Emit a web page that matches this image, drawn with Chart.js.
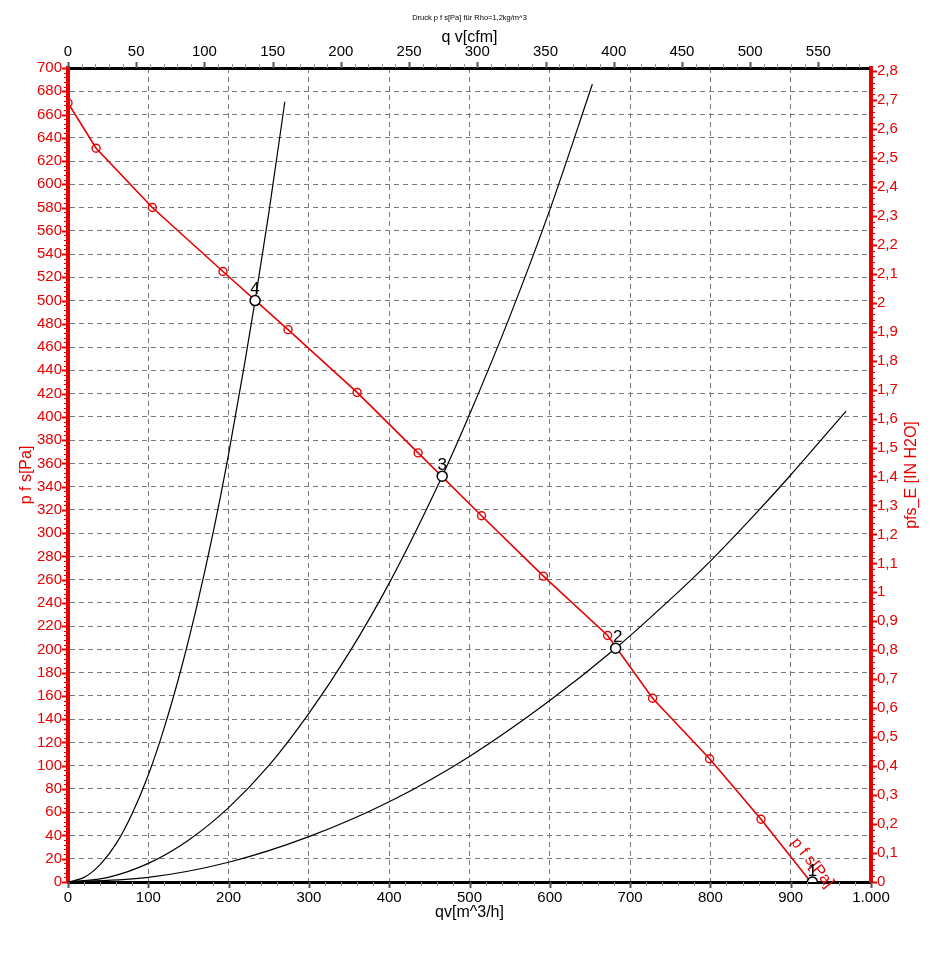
<!DOCTYPE html>
<html lang="de">
<head>
  <meta charset="UTF-8">
  <title>Druck p f s[Pa] für Rho=1,2kg/m^3</title>
  <script src="https://cdn.jsdelivr.net/npm/chart.js"></script>
  <style>
    body {
      margin: 0;
      background: #fff;
    }
    canvas {
      display: block;
    }
  </style>
</head>
<body>
  <canvas id="fanChart" width="935" height="954"></canvas>

  <script>
    // Fan curve p f s [Pa] over qv [m^3/h] (red, circle markers)
    const fanQ = [0, 35, 105, 193, 274, 360, 436, 515, 592, 672, 728, 799, 863, 925];
    const fanP = [670, 631, 580, 525, 475, 421, 369, 315, 263, 212, 158, 106, 54, 0];

    // System curves (black)
    const sys4Q = [0, 20, 40, 60, 80, 100, 120, 140, 160, 180, 200, 220, 233, 250, 270];
    const sys4P = [0, 4, 15, 33, 59, 92, 133, 181, 236, 298, 368, 446, 500, 575, 671];
    const sys3Q = [0, 50, 100, 150, 200, 250, 300, 350, 400, 466, 500, 550, 600, 653];
    const sys3P = [0, 4, 16, 36, 64, 100, 145, 197, 257, 349, 402, 486, 578, 686];
    const sys2Q = [0, 100, 200, 300, 400, 500, 600, 682, 750, 800, 850, 900, 969];
    const sys2P = [0, 4, 17, 39, 69, 108, 156, 201, 243, 276, 312, 350, 405];

    // Operating points
    const opLabels = ['4', '3', '2', '1'];
    const opQ = [233, 466, 682, 927];
    const opP = [500, 349, 201, 0];

    // Axis ranges and unit conversions
    const qMax = 1000;          // m^3/h
    const pMax = 700;           // Pa
    const cfmPerM3h = 0.588578;
    const paPerInH2O = 249.089;

    const RED = '#e60000';
    const FONT = '"Liberation Sans", Arial, sans-serif';

    const pts = (xs, ys) => xs.map((x, i) => ({ x: x, y: ys[i] }));

    // Extra drawing: tick marks, axis titles, point labels
    const decor = {
      id: 'decor',
      afterDatasetsDraw(chart) {
        const { ctx, chartArea: a, scales } = chart;
        ctx.save();
        const line = (x1, y1, x2, y2, w, c) => {
          ctx.beginPath();
          ctx.lineWidth = w;
          ctx.strokeStyle = c;
          ctx.moveTo(x1, y1);
          ctx.lineTo(x2, y2);
          ctx.stroke();
        };

        // left axis ticks (Pa)
        for (let v = 0; v <= pMax; v += 4) {
          const p = Math.round(scales.y.getPixelForValue(v)) + 0.5;
          const major = v % 20 === 0;
          line(a.left - (major ? 6 : 4), p, a.left, p, major ? 2 : 1, RED);
        }
        // right axis ticks (IN H2O)
        for (let i = 0; i <= 140; i++) {
          const p = Math.round(scales.yRight.getPixelForValue(i * 0.02)) + 0.5;
          const major = i % 5 === 0;
          line(a.right, p, a.right + (major ? 6 : 4), p, major ? 2 : 1, RED);
        }
        // bottom axis ticks (m^3/h)
        for (let v = 0; v <= qMax; v += 20) {
          const p = Math.round(scales.x.getPixelForValue(v)) + 0.5;
          const major = v % 100 === 0;
          line(p, a.bottom, p, a.bottom + (major ? 6 : 4), major ? 2 : 1, major ? '#555' : '#999');
        }
        // top axis ticks (cfm)
        for (let v = 0; v <= 580; v += 10) {
          const p = Math.round(scales.xTop.getPixelForValue(v)) + 0.5;
          const major = v % 50 === 0;
          line(p, a.top, p, a.top - (major ? 6 : 4), major ? 2 : 1, major ? '#555' : '#999');
        }

        // titles
        const cx = (a.left + a.right) / 2;
        const cy = (a.top + a.bottom) / 2;
        ctx.textAlign = 'center';
        ctx.textBaseline = 'middle';
        ctx.fillStyle = '#000';
        ctx.font = '7.5px ' + FONT;
        ctx.fillText('Druck p f s[Pa] für Rho=1,2kg/m^3', cx, 18);
        ctx.font = '16px ' + FONT;
        ctx.fillText('q v[cfm]', cx, 38);
        ctx.fillText('qv[m^3/h]', cx, 913);

        ctx.fillStyle = RED;
        [[27, 'p f s[Pa]'], [912, 'pfs_E [IN H2O]']].forEach(([x, t]) => {
          ctx.save();
          ctx.translate(x, cy);
          ctx.rotate(-Math.PI / 2);
          ctx.fillText(t, 0, 0);
          ctx.restore();
        });

        // label along the fan curve end
        const fanMeta = chart.getDatasetMeta(1).data;
        const n = fanMeta.length;
        const p0 = fanMeta[n - 2], p1 = fanMeta[n - 1];
        const dx = p1.x - p0.x, dy = p1.y - p0.y;
        const len = Math.hypot(dx, dy);
        const ux = dx / len, uy = dy / len;
        const lx = p0.x + ux * 66 + uy * 13;
        const ly = p0.y + uy * 66 - ux * 13;
        ctx.save();
        ctx.translate(lx, ly);
        ctx.rotate(Math.atan2(dy, dx));
        ctx.fillText('p f s[Pa]', 0, 0);
        ctx.restore();

        // operating point numbers
        ctx.fillStyle = '#000';
        ctx.font = '17px ' + FONT;
        const opMeta = chart.getDatasetMeta(0).data;
        opMeta.forEach((el, i) => {
          ctx.fillText(opLabels[i], el.x + (i === 2 ? 2 : 0), el.y - 11);
        });

        ctx.restore();
      }
    };

    const gridOpts = {
      color: '#7a7a7a',
      lineWidth: 1,
      drawTicks: false,
    };

    const config = {
      type: 'scatter',
      data: {
        datasets: [
          {
            label: 'Betriebspunkte',
            data: pts(opQ, opP),
            showLine: false,
            pointRadius: 5,
            pointBorderWidth: 1.5,
            pointBorderColor: '#000',
            pointBackgroundColor: '#fff',
          },
          {
            label: 'p f s[Pa]',
            data: pts(fanQ, fanP),
            showLine: true,
            borderColor: RED,
            borderWidth: 1.6,
            tension: 0,
            pointRadius: (c) => (c.dataIndex === fanQ.length - 1 ? 0 : 4),
            pointBorderWidth: 1.4,
            pointBorderColor: RED,
            pointBackgroundColor: 'rgba(0,0,0,0)',
          },
          {
            label: 'Anlage 4',
            data: pts(sys4Q, sys4P),
            showLine: true,
            borderColor: '#000',
            borderWidth: 1.2,
            cubicInterpolationMode: 'monotone',
            pointRadius: 0,
          },
          {
            label: 'Anlage 3',
            data: pts(sys3Q, sys3P),
            showLine: true,
            borderColor: '#000',
            borderWidth: 1.2,
            cubicInterpolationMode: 'monotone',
            pointRadius: 0,
          },
          {
            label: 'Anlage 2',
            data: pts(sys2Q, sys2P),
            showLine: true,
            borderColor: '#000',
            borderWidth: 1.2,
            cubicInterpolationMode: 'monotone',
            pointRadius: 0,
          },
        ],
      },
      options: {
        responsive: false,
        animation: false,
        layout: { padding: 0 },
        plugins: {
          legend: { display: false },
          tooltip: { enabled: false },
        },
        scales: {
          x: {
            type: 'linear',
            position: 'bottom',
            min: 0,
            max: qMax,
            grid: gridOpts,
            border: { display: true, color: '#000', width: 3, dash: [5, 4] },
            ticks: {
              stepSize: 100,
              autoSkip: false,
              maxRotation: 0,
              padding: 7,
              color: '#000',
              font: { family: FONT, size: 15 },
              callback: (v) => (v >= 1000 ? '1.000' : String(v)),
            },
            afterFit: (s) => { s.height = 72; },
          },
          xTop: {
            type: 'linear',
            position: 'top',
            min: 0,
            max: qMax * cfmPerM3h,
            grid: { display: false, drawTicks: false },
            border: { display: true, color: '#000', width: 3 },
            ticks: {
              stepSize: 50,
              autoSkip: false,
              includeBounds: false,
              maxRotation: 0,
              padding: 7,
              color: '#000',
              font: { family: FONT, size: 15 },
            },
            afterFit: (s) => { s.height = 68; },
          },
          y: {
            type: 'linear',
            position: 'left',
            min: 0,
            max: pMax,
            grid: gridOpts,
            border: { display: true, color: RED, width: 4, dash: [5, 4] },
            ticks: {
              stepSize: 20,
              autoSkip: false,
              padding: 6,
              color: RED,
              font: { family: FONT, size: 15 },
            },
            afterFit: (s) => { s.width = 68; },
          },
          yRight: {
            type: 'linear',
            position: 'right',
            min: 0,
            max: pMax / paPerInH2O,
            grid: { display: false, drawTicks: false },
            border: { display: true, color: RED, width: 4 },
            ticks: {
              stepSize: 0.1,
              autoSkip: false,
              includeBounds: false,
              padding: 6,
              color: RED,
              font: { family: FONT, size: 15 },
              callback: (v) => String(Number(v.toFixed(1))).replace('.', ','),
            },
            afterFit: (s) => { s.width = 64; },
          },
        },
      },
      plugins: [decor],
    };

    const chart = new Chart(document.getElementById('fanChart'), config);
  </script>
</body>
</html>
